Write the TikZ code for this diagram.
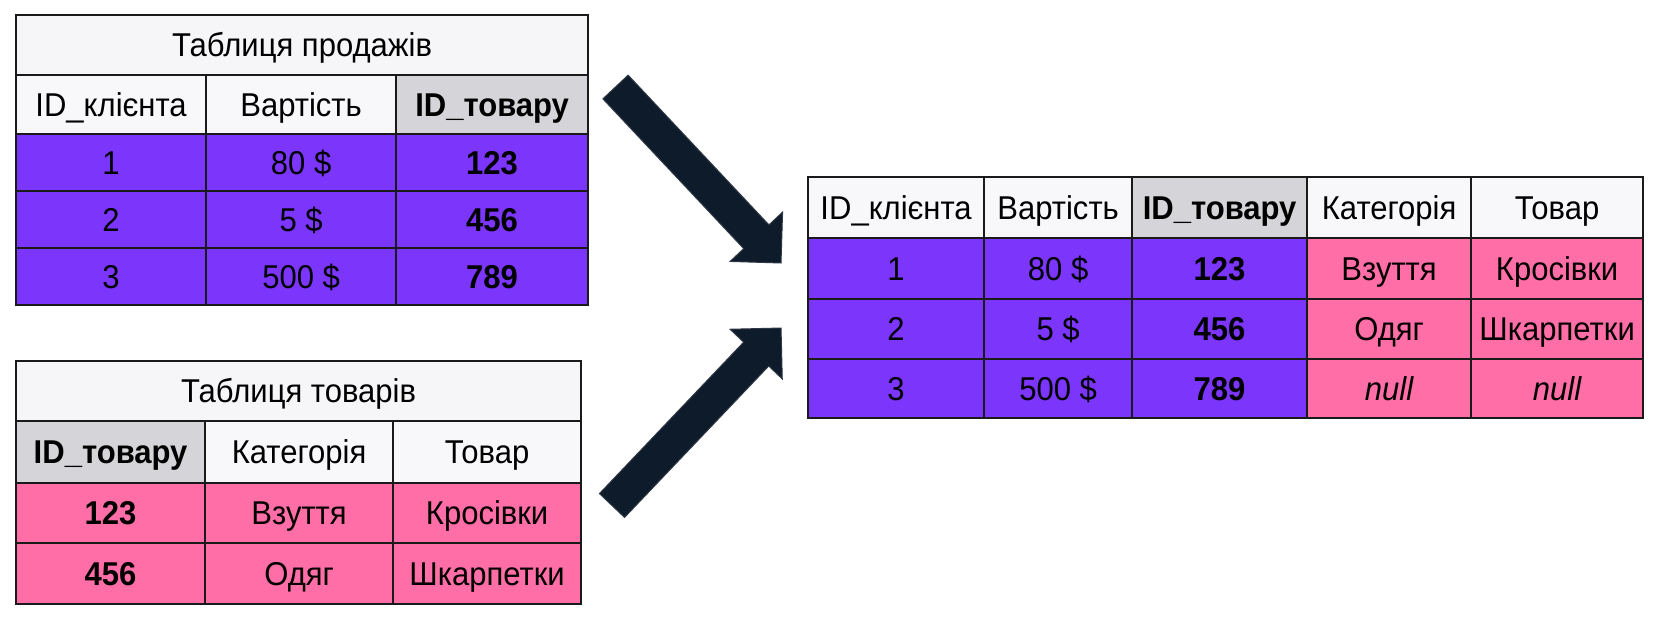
\documentclass[tikz,border=0pt]{standalone}
\usepackage{fontspec}
\setmainfont[FakeStretch=0.94]{Liberation Sans}
\definecolor{linec}{HTML}{1A1A1A}
\definecolor{titlec}{HTML}{F6F6F8}
\definecolor{hdrc}{HTML}{F8F8FA}
\definecolor{keyc}{HTML}{D5D5D9}
\definecolor{purc}{HTML}{7B35FB}
\definecolor{pnkc}{HTML}{FF6EA6}
\definecolor{arrc}{HTML}{0E1B2B}
\definecolor{arre}{HTML}{2E3744}
\tikzset{
  cell/.style={draw=linec, line width=2.2pt, rectangle, inner sep=0pt, anchor=north west,
    text height=24pt, text depth=1pt, font=\fontsize{33}{39}\selectfont, text=black},
  ttl/.style={cell, fill=titlec},
  hdr/.style={cell, fill=hdrc},
  keyh/.style={cell, fill=keyc, font=\fontsize{33}{39}\selectfont\bfseries},
  pur/.style={cell, fill=purc},
  purb/.style={cell, fill=purc, font=\fontsize{33}{39}\selectfont\bfseries},
  pnk/.style={cell, fill=pnkc},
  pnkb/.style={cell, fill=pnkc, font=\fontsize{33}{39}\selectfont\bfseries},
  pnki/.style={cell, fill=pnkc, font=\fontsize{33}{39}\selectfont\itshape},
  bigarrow/.style={fill=arrc, draw=arre, line width=1pt, line join=miter}
}
\newcommand\tcell[7]{\node[#6, minimum width=#4pt, minimum height=#5pt] (#1) at (#2,#3) {#7};}
\begin{document}
\begin{tikzpicture}[x=1pt,y=-1pt]
\useasboundingbox (0,0) rectangle (1660,624);
\fill[white] (0,0) rectangle (1660,624);
% ---- Sales table ----
\tcell{stitle}{15}{14}{572}{60}{ttl}{Таблиця продажів}
\tcell{sh1}{15}{74}{190}{59}{hdr}{ID\_клієнта}
\tcell{sh2}{205}{74}{190}{59}{hdr}{Вартість}
\tcell{sh3}{395}{74}{192}{59}{keyh}{ID\_товару}
\tcell{s11}{15}{133}{190}{57}{pur}{1}
\tcell{s12}{205}{133}{190}{57}{pur}{80 \$}
\tcell{s13}{395}{133}{192}{57}{purb}{123}
\tcell{s21}{15}{190}{190}{57}{pur}{2}
\tcell{s22}{205}{190}{190}{57}{pur}{5 \$}
\tcell{s23}{395}{190}{192}{57}{purb}{456}
\tcell{s31}{15}{247}{190}{57}{pur}{3}
\tcell{s32}{205}{247}{190}{57}{pur}{500 \$}
\tcell{s33}{395}{247}{192}{57}{purb}{789}
% ---- Products table ----
\tcell{ptitle}{15}{360}{565}{60}{ttl}{Таблиця товарів}
\tcell{ph1}{15}{420}{189}{62}{keyh}{ID\_товару}
\tcell{ph2}{204}{420}{188}{62}{hdr}{Категорія}
\tcell{ph3}{392}{420}{188}{62}{hdr}{Товар}
\tcell{p11}{15}{482}{189}{60}{pnkb}{123}
\tcell{p12}{204}{482}{188}{60}{pnk}{Взуття}
\tcell{p13}{392}{482}{188}{60}{pnk}{Кросівки}
\tcell{p21}{15}{542}{189}{61}{pnkb}{456}
\tcell{p22}{204}{542}{188}{61}{pnk}{Одяг}
\tcell{p23}{392}{542}{188}{61}{pnk}{Шкарпетки}
% ---- Result table ----
\tcell{rh1}{807}{176}{176}{61}{hdr}{ID\_клієнта}
\tcell{rh2}{983}{176}{148}{61}{hdr}{Вартість}
\tcell{rh3}{1131}{176}{175}{61}{keyh}{ID\_товару}
\tcell{rh4}{1306}{176}{164}{61}{hdr}{Категорія}
\tcell{rh5}{1470}{176}{172}{61}{hdr}{Товар}
\tcell{r11}{807}{237}{176}{61}{pur}{1}
\tcell{r12}{983}{237}{148}{61}{pur}{80 \$}
\tcell{r13}{1131}{237}{175}{61}{purb}{123}
\tcell{r14}{1306}{237}{164}{61}{pnk}{Взуття}
\tcell{r15}{1470}{237}{172}{61}{pnk}{Кросівки}
\tcell{r21}{807}{298}{176}{60}{pur}{2}
\tcell{r22}{983}{298}{148}{60}{pur}{5 \$}
\tcell{r23}{1131}{298}{175}{60}{purb}{456}
\tcell{r24}{1306}{298}{164}{60}{pnk}{Одяг}
\tcell{r25}{1470}{298}{172}{60}{pnk}{Шкарпетки}
\tcell{r31}{807}{358}{176}{59}{pur}{3}
\tcell{r32}{983}{358}{148}{59}{pur}{500 \$}
\tcell{r33}{1131}{358}{175}{59}{purb}{789}
\tcell{r34}{1306}{358}{164}{59}{pnki}{null}
\tcell{r35}{1470}{358}{172}{59}{pnki}{null}
% ---- Arrows ----
\coordinate (a1tail) at (615.5,87);
\coordinate (a2tail) at (612,505.5);
\begin{scope}[shift={(a1tail)}, rotate=-46.76]
  \draw[bigarrow] (0,-17.3) -- (205.6,-17.3) -- (205.6,-36) -- (241.6,0)
    -- (205.6,36) -- (205.6,17.3) -- (0,17.3) -- cycle;
\end{scope}
\begin{scope}[shift={(a2tail)}, rotate=46.4]
  \draw[bigarrow] (0,-17.3) -- (209.1,-17.3) -- (209.1,-36) -- (245.1,0)
    -- (209.1,36) -- (209.1,17.3) -- (0,17.3) -- cycle;
\end{scope}
\end{tikzpicture}
\end{document}
